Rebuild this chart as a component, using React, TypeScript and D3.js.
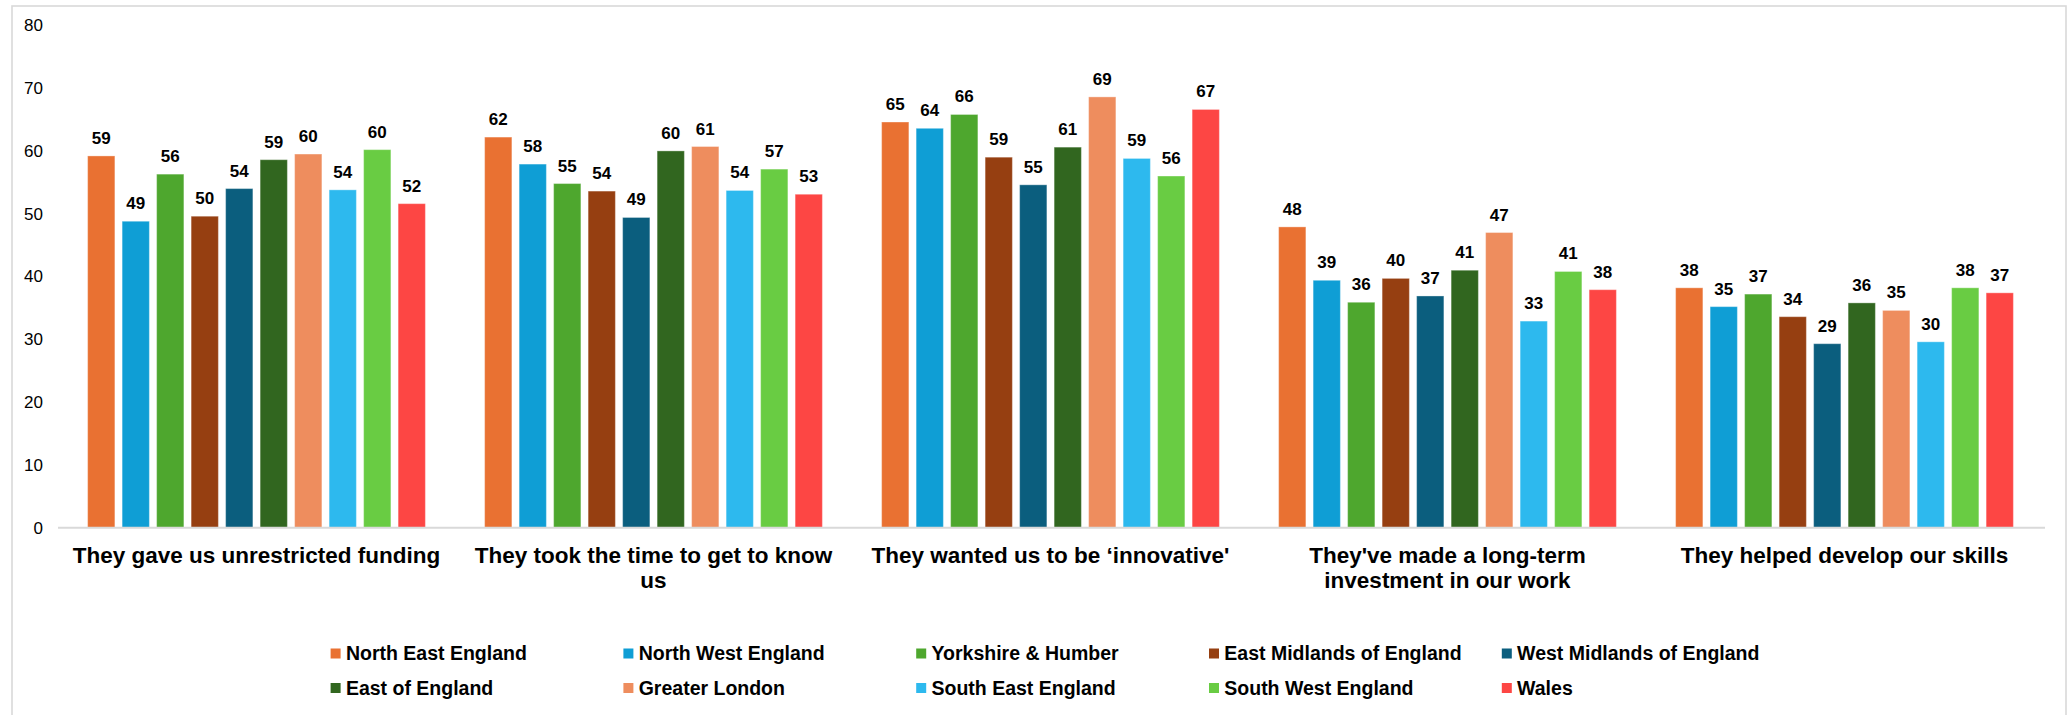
import React from "react";
import * as d3 from "d3";

const categories: string[] = [
  "They gave us unrestricted funding",
  "They took the time to get to know us",
  "They wanted us to be \u2018innovative'",
  "They've made a long-term investment in our work",
  "They helped develop our skills",
];
const categoryLines: string[][] = [
  ["They gave us unrestricted funding"],
  ["They took the time to get to know", "us"],
  ["They wanted us to be \u2018innovative'"],
  ["They've made a long-term", "investment in our work"],
  ["They helped develop our skills"],
];

const seriesNames: string[] = [
  "North East England",
  "North West England",
  "Yorkshire & Humber",
  "East Midlands of England",
  "West Midlands of England",
  "East of England",
  "Greater London",
  "South East England",
  "South West England",
  "Wales",
];
const seriesColors: string[] = [
  "#E97132",
  "#0F9ED5",
  "#4EA72E",
  "#963F11",
  "#0B5E7E",
  "#31661F",
  "#EE8D5E",
  "#2DB9EE",
  "#69CC43",
  "#FD4644",
];

const northEast = [59.2, 62.2, 64.6, 47.9, 38.2];
const northWest = [48.8, 57.9, 63.6, 39.4, 35.2];
const yorkshire = [56.3, 54.8, 65.8, 35.9, 37.2];
const eastMidlands = [49.6, 53.6, 59.0, 39.7, 33.6];
const westMidlands = [54.0, 49.4, 54.6, 36.9, 29.3];
const eastOfEngland = [58.6, 60.0, 60.6, 41.0, 35.8];
const greaterLondon = [59.5, 60.7, 68.6, 47.0, 34.6];
const southEast = [53.8, 53.7, 58.8, 32.9, 29.6];
const southWest = [60.2, 57.1, 56.0, 40.8, 38.2];
const wales = [51.6, 53.1, 66.6, 37.9, 37.4];

const seriesValues: number[][] = [
  northEast, northWest, yorkshire, eastMidlands, westMidlands,
  eastOfEngland, greaterLondon, southEast, southWest, wales,
];

const yTicks = [0, 10, 20, 30, 40, 50, 60, 70, 80];

const W = 2071;
const H = 715;
const FONT = "'Liberation Sans', Arial, Helvetica, sans-serif";

export default function App() {
  const x0 = d3.scaleBand<string>().domain(categories).range([58, 2043]).paddingInner(0).paddingOuter(0);
  const bw = x0.bandwidth();
  const x1 = d3
    .scaleBand<string>()
    .domain(seriesNames)
    .range([bw / 2 - 172.5, bw / 2 + 172.5])
    .paddingInner(0.21)
    .paddingOuter(0.105);
  const y = d3.scaleLinear().domain([0, 80]).range([527.7, 25.3]);
  const fmt = d3.format(".0f");

  const legendCols = 5;
  const legendX0 = 330.6;
  const legendDX = 292.8;
  const legendY = [653.5, 688];

  return (
    <svg
      width={W}
      height={H}
      style={{ position: "absolute", left: 0, top: 0, background: "#fff" }}
      fontFamily={FONT}
    >
      <rect x={0} y={0} width={W} height={H} fill="#fff" />
      <rect x={12} y={6} width={2054} height={730} fill="none" stroke="#d9d9d9" strokeWidth={1.6} />

      {yTicks.map((t) => (
        <text key={t} x={43} y={y(t)} dy="0.35em" textAnchor="end" fontSize={17} fill="#000">
          {t}
        </text>
      ))}

      {categories.map((c, ci) => (
        <g key={c} transform={`translate(${x0(c)},0)`}>
          {seriesNames.map((s, si) => {
            const v = seriesValues[si][ci];
            const bx = x1(s)!;
            return (
              <g key={s}>
                <rect
                  x={bx}
                  y={y(v)}
                  width={x1.bandwidth()}
                  height={y(0) - y(v)}
                  fill={seriesColors[si]}
                  stroke="#ffffff"
                  strokeOpacity={0.35}
                  strokeWidth={1}
                />
                <text
                  x={bx + x1.bandwidth() / 2}
                  y={y(v) - 12}
                  textAnchor="middle"
                  fontSize={17}
                  fontWeight="bold"
                  fill="#000"
                >
                  {fmt(v)}
                </text>
              </g>
            );
          })}
        </g>
      ))}

      <line x1={58} x2={2045} y1={y(0)} y2={y(0)} stroke="#d9d9d9" strokeWidth={2} />

      {categories.map((c, ci) => (
        <text
          key={c}
          x={x0(c)! + bw / 2}
          y={562.5}
          textAnchor="middle"
          fontSize={22.5}
          fontWeight="bold"
          fill="#000"
        >
          {categoryLines[ci].map((ln, li) => (
            <tspan key={li} x={x0(c)! + bw / 2} dy={li === 0 ? 0 : 25.5}>
              {ln}
            </tspan>
          ))}
        </text>
      ))}

      {seriesNames.map((s, si) => {
        const col = si % legendCols;
        const row = Math.floor(si / legendCols);
        const lx = legendX0 + col * legendDX;
        const ly = legendY[row];
        return (
          <g key={s}>
            <rect x={lx} y={ly - 5} width={10} height={10} fill={seriesColors[si]} />
            <text x={lx + 15.3} y={ly} dy="0.35em" fontSize={19.5} fontWeight="bold" fill="#000">
              {s}
            </text>
          </g>
        );
      })}
    </svg>
  );
}
